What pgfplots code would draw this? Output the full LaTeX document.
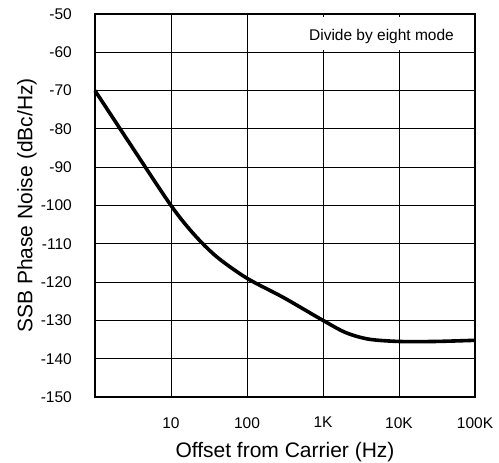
\documentclass[border=0pt]{standalone}
\usepackage{fontspec}
\setmainfont{Liberation Sans}
\usepackage{pgfplots}
\pgfplotsset{compat=1.18}
\begin{document}
\begin{tikzpicture}
\path[use as bounding box] (-95pt,-66pt) rectangle (404pt,397pt);
\begin{axis}[
  at={(0,0)}, anchor=south west,
  scale only axis, width=380pt, height=383pt,
  xmode=log, xmin=1, xmax=100000,
  ymin=-150, ymax=-50,
  xtick={1,10,100,1000,10000,100000},
  xticklabels={,10,100,1K,10K,100K},
  ytick={-150,-140,...,-50},
  xminorticks=false,
  grid=major,
  major grid style={black, line width=0.8pt},
  axis line style={black, line width=1.2pt},
  tick align=inside, major tick length=4pt,
  tick style={black, line width=0.8pt},
  tick label style={font=\fontsize{15.5}{18}\selectfont, inner sep=0pt},
  /pgf/number format/assume math mode=true,
  yticklabel style={xshift=-23pt},
  xticklabel style={yshift=-20pt},
  xlabel={Offset from Carrier (Hz)},
  ylabel={SSB Phase Noise (dBc/Hz)},
  xlabel style={at={(axis description cs:0.5,-0.158)}, anchor=base,
    font=\fontsize{21}{25}\selectfont},
  ylabel style={at={(axis description cs:-0.179,0.5)}, anchor=center,
    font=\fontsize{21}{25}\selectfont},
  clip=false,
]
\addplot[black, line width=3.6pt, smooth, tension=0.5] coordinates {
  (1,-70) (3,-84.4) (10,-100) (20,-107.5) (40,-113.4) (100,-119)
  (300,-124) (1000,-130) (2000,-133.2) (4000,-134.9)
  (10000,-135.5) (30000,-135.5) (100000,-135.2)
};
\node[fill=white, inner sep=0pt, minimum width=181pt, minimum height=32.6pt]
  at (axis cs:5888,-55.14) {};
\node[anchor=base, inner sep=0pt, font=\fontsize{15.5}{18}\selectfont]
  at (axis cs:5888,-56.79) {Divide by eight mode};
\end{axis}
\end{tikzpicture}
\end{document}
